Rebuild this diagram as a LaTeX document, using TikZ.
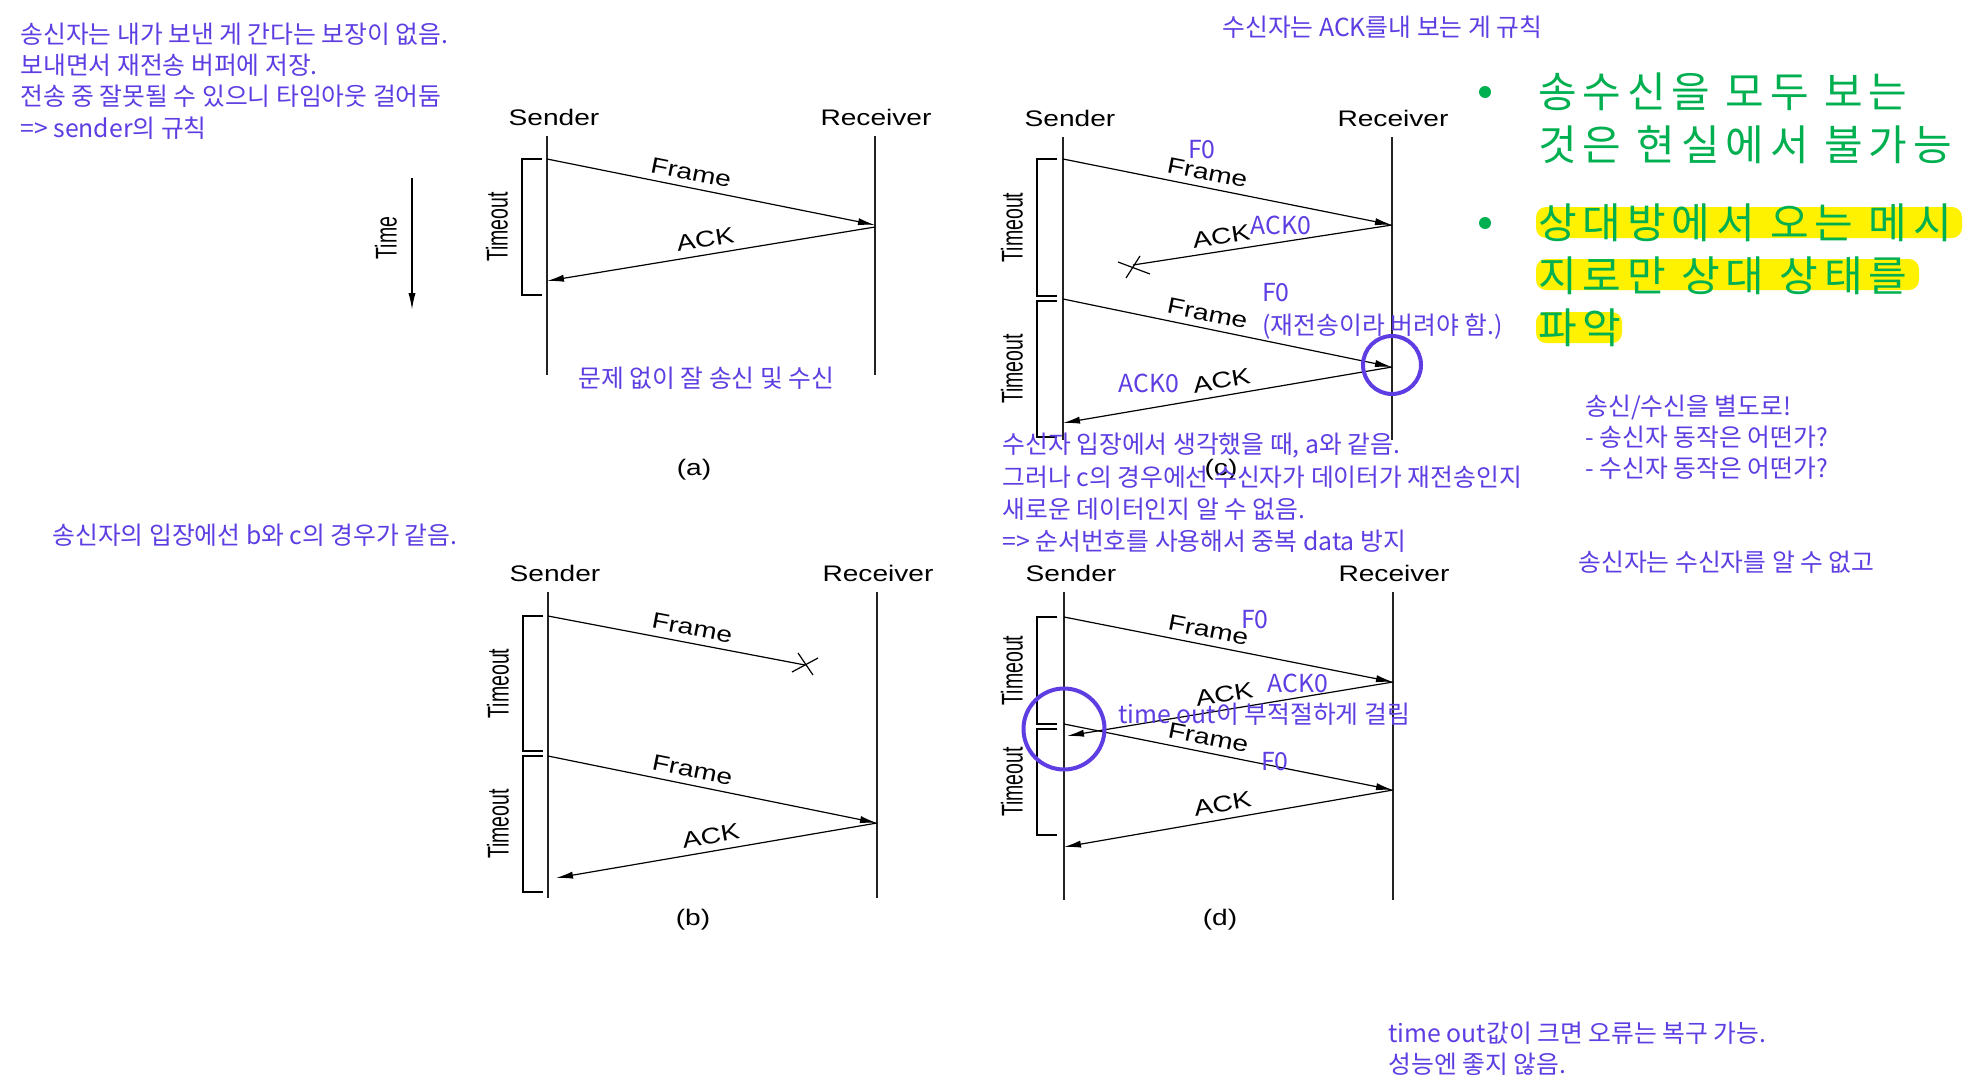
\documentclass[tikz,border=0pt]{standalone}
\usepackage{graphicx}
\usepackage{fontspec}
\setmainfont{Liberation Sans}
\newfontfamily\hangul{Noto Sans CJK KR}
\newfontfamily\hangulwide[LetterSpace=14.0]{Noto Sans CJK KR}
\usepackage{tikz}
\usetikzlibrary{arrows.meta,positioning}

\definecolor{notecol}{RGB}{94,62,226}
\definecolor{pointcol}{RGB}{0,176,80}
\definecolor{markcol}{RGB}{255,242,0}
\definecolor{linecol}{RGB}{35,35,35}

\newcommand{\stretchx}[1]{\scalebox{1.25}[1]{#1}}
\newcommand{\squeezex}[1]{\scalebox{0.65}[1]{#1}}

\tikzset{
    party/.style={font=\fontsize{11.25pt}{13pt}\selectfont, inner sep=0pt},
    timeline/.style={draw=linecol, line width=1pt},
    msg/.style={->, line width=0.6pt},
    msg lost/.style={line width=0.6pt},
    msg label/.style={sloped, above, font=\fontsize{11.25pt}{13pt}\selectfont},
    bracket/.style={line width=0.7pt},
    timeout/.style={rotate=90, font=\fontsize{15pt}{17pt}\selectfont, inner sep=0pt},
    note/.style={font=\hangul\fontsize{12.4pt}{14pt}\selectfont, text=notecol, anchor=west, inner sep=0pt},
    tag/.style={font=\hangul\fontsize{12.4pt}{14pt}\selectfont, text=notecol, inner sep=0pt},
    point/.style={font=\hangulwide\fontsize{21pt}{25pt}\selectfont, text=pointcol, anchor=west, inner sep=0pt},
    bullet/.style={circle, fill=pointcol, minimum size=6pt, inner sep=0pt},
    marker/.style={fill=markcol, rounded corners=5pt},
    ring/.style={circle, draw=notecol, line width=2pt, inner sep=0pt}
}

\begin{document}
\begin{tikzpicture}[x=0.5pt, y=-0.5pt, >={Latex[length=8.5pt,width=3.6pt]}]

    \path [fill=white, use as bounding box] (0,0) rectangle (1982,1092);

                % draw nodes
                    % sender / receiver headings and time lines
                    \foreach \p/\sx/\rx/\t/\b in {a/547/875/136/375, b/548/877/592/898, c/1063/1392/137/440, d/1064/1393/592/900} {
                        \node [party] (snd-\p) at (\sx+7,\t-19) {\stretchx{Sender}};
                        \node [party] (rcv-\p) at (\rx+1,\t-19) {\stretchx{Receiver}};
                        \coordinate (snd-\p-top) at (\sx,\t);
                        \coordinate (snd-\p-bot) at (\sx,\b);
                        \coordinate (rcv-\p-top) at (\rx,\t);
                        \coordinate (rcv-\p-bot) at (\rx,\b);
                        \draw [timeline] (snd-\p-top) -- (snd-\p-bot);
                        \draw [timeline] (rcv-\p-top) -- (rcv-\p-bot);
                    }

                    % captions
                    \foreach \p/\x/\y in {a/694/470, b/693/920, c/1221/470, d/1220/920}
                    \node [party] (cap-\p) at (\x,\y) {\stretchx{(\p)}};

                % time axis
                \coordinate (time-top) at (412,178);
                \coordinate (time-bot) at (412,310);
                \draw [->, line width=0.8pt] (time-top) -- (time-bot);
                \node [timeout] (time) at (386,238) {\squeezex{Time}};

                % timeout brackets
                \foreach \x/\t/\b [count=\i] in {522/159/295, 523/616/751, 523/756/892, 1037/159/296, 1037/301/437, 1037/617/724, 1037/729/835} {
                    \draw [bracket] (\x+20,\t) -| (\x,\b) -- (\x+20,\b);
                    \node [timeout] (tmo-\i) at (\x-25,{(\t+\b)/2}) {\squeezex{Timeout}};
                }

                % frames from sender to receiver
                \foreach \xs/\ys/\xr/\yr [count=\i] in {547/159/875/225, 548/756/877/823, 1063/159/1392/225, 1063/299/1392/367, 1064/617/1393/682, 1064/724/1393/790} {
                    \coordinate (frm-\i-s) at (\xs,\ys);
                    \coordinate (frm-\i-r) at (\xr,\yr);
                    \draw [msg] (frm-\i-s) -- (frm-\i-r)
                    node [msg label, pos=0.43] {\stretchx{Frame}};
                }

                % acks from receiver to sender
                \foreach \xr/\yr/\xs/\ys [count=\i] in {875/227/547/281, 877/823/556/878, 1392/367/1063/423, 1393/682/1067/736, 1393/790/1064/847} {
                    \coordinate (ack-\i-r) at (\xr,\yr);
                    \coordinate (ack-\i-s) at (\xs,\ys);
                    \draw [msg] (ack-\i-r) -- (ack-\i-s)
                    node [msg label, pos=0.51] {\stretchx{ACK}};
                }

                % lost messages
                \coordinate (lost-b) at (805,665);
                \draw [msg lost] (snd-b-top) ++(0,24) coordinate (lost-b-s) -- (lost-b)
                    node [msg label, pos=0.55] {\stretchx{Frame}};
                \draw [msg lost] (lost-b) ++(-13,7) -- ++(26,-14);
                \draw [msg lost] (lost-b) ++(-7,-12) -- ++(15,22);

                \coordinate (lost-c) at (1133,265);
                \draw [msg lost] (frm-3-r) -- (lost-c)
                    node [msg label, pos=0.65] {\stretchx{ACK}};
                \draw [msg lost] (lost-c) ++(-15,-3) -- ++(32,12);
                \draw [msg lost] (lost-c) ++(-7,13) -- ++(14,-22);

                % notes
                \foreach \l [count=\i] in {송신자는 내가 보낸 게 간다는 보장이 없음., 보내면서 재전송 버퍼에 저장., 전송 중 잘못될 수 있으니 타임아웃 걸어둠, => sender의 규칙}
                    \node [note] (snd-note-\i) at (20,34+31.3*\i-31.3) {\l};

                \node [note] (rcv-rule) at (1222,27) {수신자는 ACK를내 보는 게 규칙};
                \node [note] (no-error) at (578,378) {문제 없이 잘 송신 및 수신};
                \node [note] (same-bc) at (52,535) {송신자의 입장에선 b와 c의 경우가 같음.};

                \foreach \l [count=\i] in {{수신자 입장에서 생각했을 때, a와 같음.}, 그러나 c의 경우에선 수신자가 데이터가 재전송인지, 새로운 데이터인지 알 수 없음., => 순서번호를 사용해서 중복 data 방지}
                    \node [note] (seq-note-\i) at (1002,446+31.7*\i-31.7) {\l};

                \foreach \l [count=\i] in {{송신/수신을 별도로!}, - 송신자 동작은 어떤가?, - 수신자 동작은 어떤가?}
                    \node [note] (split-\i) at (1585,407+30.5*\i-30.5) {\l};
                \node [note] (unknown) at (1578,562) {송신자는 수신자를 알 수 없고};

                \foreach \l [count=\i] in {time out값이 크면 오류는 복구 가능., 성능엔 좋지 않음.}
                    \node [note] (big-to-\i) at (1388,1033+31*\i-31) {\l};

                % sequence tags
                \node [tag] (c-f0) at (1202,150) {F0};
                \node [tag] (c-ack0) at (1281,225) {ACK0};
                \node [tag] (c-f0-dup) at (1276,293) {F0};
                \node [note] (c-drop) at (1262,327) {(재전송이라 버려야 함.)};
                \node [tag] (c-ack0-dup) at (1149,383) {ACK0};
                \node [tag] (d-f0) at (1255,620) {F0};
                \node [tag] (d-ack0) at (1298,683) {ACK0};
                \node [note] (d-early) at (1118,714) {time out이 부적절하게 걸림};
                \node [tag] (d-f0-dup) at (1275,762) {F0};

                % circles
                \node [ring, minimum size=29pt] (c-ring) at (1392,365) {};
                \node [ring, minimum size=40.5pt] (d-ring) at (1064,729) {};

                % key points
                \fill [marker] (1536,207) rectangle (1962,238);
                \fill [marker] (1536,259) rectangle (1919,290);
                \fill [marker] (1536,312) rectangle (1622,343);
                \node [bullet] (dot-1) at (1485,92) {};
                \node [bullet] (dot-2) at (1485,223) {};
                \foreach \l [count=\i] in {송수신을 모두 보는, 것은 현실에서 불가능}
                    \node [point] (view-\i) at (1538,92+53*\i-53) {\l};
                \foreach \l [count=\i] in {상대방에서 오는 메시, 지로만 상대 상태를, 파악}
                    \node [point] (msg-only-\i) at (1538,223+52.5*\i-52.5) {\l};

\end{tikzpicture}
\end{document}
